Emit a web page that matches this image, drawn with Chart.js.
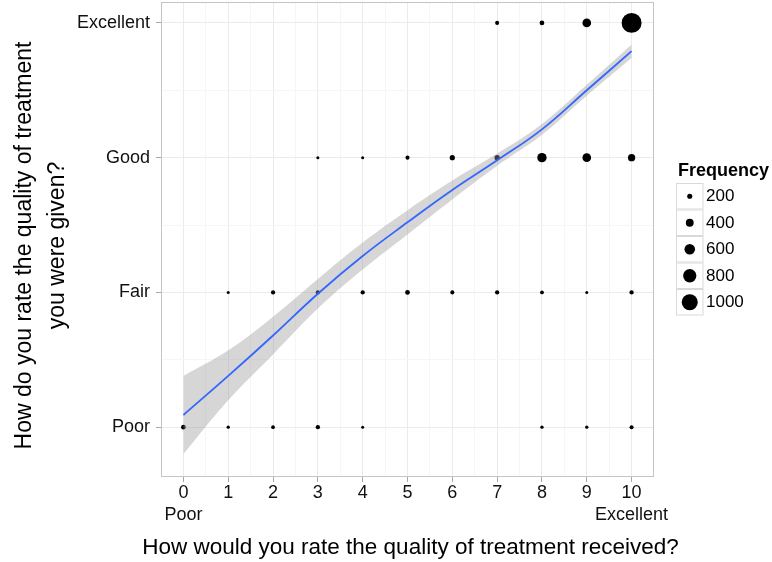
<!DOCTYPE html>
<html><head><meta charset="utf-8">
<script src="https://cdn.jsdelivr.net/npm/chart.js@4.4.0/dist/chart.umd.min.js"></script>
<style>html,body{margin:0;padding:0;background:#fff;}#wrap{width:772px;height:562px;}</style>
</head><body><div id="wrap"><canvas id="c" width="772" height="562"></canvas></div>
<script>
// ---- data ----
const xValues = [0,1,2,3,4,5,6,7,8,9,10];
const xTickLabels = ['0','1','2','3','4','5','6','7','8','9','10'];
const xTickSubLabels = ['Poor','','','','','','','','','','Excellent'];
const xGridValues = [0,0.5,1,1.5,2,2.5,3,3.5,4,4.5,5,5.5,6,6.5,7,7.5,8,8.5,9,9.5,10];
const yCategories = ['Poor','Fair','Good','Excellent'];
const yGridValues = [1,1.5,2,2.5,3,3.5,4];
const freqPoor      = [170, 70,100,140, 45,null,null,null, 70, 70,120];
const freqFair      = [null, 45,140,140,140,170,120,140,100, 45,140];
const freqGood      = [null,null,null, 45, 45,120,210,210,510,460,360];
const freqExcellent = [null,null,null,null,null,null,null,120,170,460,1290];
const smoothFit   = [1.09,1.38,1.68,1.99,2.27,2.52,2.76,2.98,3.21,3.50,3.79];
const smoothLower = [0.80,1.20,1.54,1.88,2.17,2.43,2.69,2.94,3.17,3.46,3.74];
const smoothUpper = [1.38,1.57,1.82,2.10,2.37,2.61,2.83,3.03,3.25,3.54,3.84];
const legendValues = [200,400,600,800,1000];
const legendTitle = 'Frequency';
const xTitle = 'How would you rate the quality of treatment received?';
const yTitle = ['How do you rate the quality of treatment','you were given?'];

// ---- helpers ----
const radiusFor = f => 1.2 + 0.0068 * f;
const freqRows = [freqPoor, freqFair, freqGood, freqExcellent];
const pointData = [];
const pointRadii = [];
freqRows.forEach((row, r) => {
  row.forEach((f, i) => {
    if (f !== null) { pointData.push({x: xValues[i], y: r + 1}); pointRadii.push(radiusFor(f)); }
  });
});
const toXY = arr => xValues.map((x, i) => ({x: x, y: arr[i]}));
const isMajor = v => Math.abs(v - Math.round(v)) < 1e-9;
const FONT = "'Liberation Sans', Arial, sans-serif";

const framePlugin = {
  id: 'frame',
  beforeDraw(chart) {
    const c = chart.ctx; c.save(); c.fillStyle = '#fff'; c.fillRect(0, 0, chart.width, chart.height); c.restore();
  },
  afterDraw(chart) {
    const c = chart.ctx, a = chart.chartArea;
    c.save();
    c.strokeStyle = '#c4c4c4'; c.lineWidth = 1;
    c.strokeRect(a.left + 0.5, a.top + 0.5, a.right - a.left - 1, a.bottom - a.top - 1);
    // axis titles (drawn here so they are not squeezed to the plot size)
    c.fillStyle = '#000'; c.textAlign = 'center'; c.textBaseline = 'middle';
    c.font = '22.5px ' + FONT;
    c.fillText(xTitle, (a.left + a.right) / 2 + 3, 548);
    c.font = '23px ' + FONT;
    yTitle.forEach((line, i) => {
      c.save();
      c.translate(25 + i * 33, (a.top + a.bottom) / 2 + 6);
      c.rotate(-Math.PI / 2);
      c.fillText(line, 0, 0);
      c.restore();
    });
    // legend
    c.textAlign = 'left';
    c.font = 'bold 18px ' + FONT;
    c.fillText(legendTitle, 678, 171.5);
    const bx = 676, bw = 27.5, rowH = 26.5;
    let by = 183;
    c.font = '17px ' + FONT;
    legendValues.forEach(v => {
      c.fillStyle = '#fff'; c.fillRect(bx, by, bw, rowH);
      c.strokeStyle = '#d9d9d9'; c.strokeRect(bx + 0.5, by + 0.5, bw - 1, rowH - 1);
      c.fillStyle = '#000';
      c.beginPath(); c.arc(bx + bw / 2, by + rowH / 2, radiusFor(v), 0, Math.PI * 2); c.fill();
      c.fillText(String(v), 706, by + rowH / 2 + 0.5);
      by += rowH;
    });
    c.restore();
  }
};

new Chart(document.getElementById('c'), {
  type: 'line',
  data: {
    datasets: [
      { label: 'fit', data: toXY(smoothFit), borderColor: '#3366FF', borderWidth: 1.8,
        pointRadius: 0, tension: 0.4, fill: false, order: 1 },
      { label: 'lower', data: toXY(smoothLower), borderWidth: 0, borderColor: 'rgba(0,0,0,0)',
        pointRadius: 0, tension: 0.4, fill: false, order: 2 },
      { label: 'upper', data: toXY(smoothUpper), borderWidth: 0, borderColor: 'rgba(0,0,0,0)',
        backgroundColor: 'rgba(153,153,153,0.4)',
        pointRadius: 0, tension: 0.4, fill: '-1', order: 2 },
      { label: 'Frequency', data: pointData, showLine: false, pointRadius: pointRadii,
        pointBackgroundColor: '#000', pointBorderWidth: 0, pointHoverRadius: pointRadii, order: 3 }
    ]
  },
  options: {
    responsive: false, animation: false, devicePixelRatio: 1,
    layout: { autoPadding: false, padding: { top: 2, right: 118, left: 0, bottom: 0 } },
    plugins: { legend: { display: false }, tooltip: { enabled: false } },
    scales: {
      x: {
        type: 'linear', min: -0.5, max: 10.5,
        afterBuildTicks: s => { s.ticks = xGridValues.map(v => ({value: v})); },
        afterFit: s => { s.height = 85; s.paddingLeft = 0; s.paddingRight = 0; },
        ticks: {
          autoSkip: false, maxRotation: 0, padding: 0, color: '#111',
          font: { size: 18, family: FONT, lineHeight: 22 / 18 },
          callback: v => {
            if (!isMajor(v)) return '';
            const i = xValues.indexOf(Math.round(v));
            return xTickSubLabels[i] ? [xTickLabels[i], xTickSubLabels[i]] : xTickLabels[i];
          }
        },
        grid: {
          color: ctx => isMajor(ctx.tick.value) ? '#ebebeb' : '#f6f6f6',
          lineWidth: 1, drawTicks: true, tickLength: 5,
          tickColor: ctx => isMajor(ctx.tick.value) ? '#a8a8a8' : 'rgba(0,0,0,0)'
        },
        border: { display: false },
        title: { display: false }
      },
      y: {
        type: 'linear', min: 0.63, max: 4.155,
        afterBuildTicks: s => { s.ticks = yGridValues.map(v => ({value: v})); },
        afterFit: s => { s.width = 161; s.paddingTop = 0; s.paddingBottom = 0; },
        ticks: {
          autoSkip: false, padding: 6, color: '#111',
          font: { size: 18, family: FONT },
          callback: v => isMajor(v) ? yCategories[Math.round(v) - 1] : ''
        },
        grid: {
          color: ctx => isMajor(ctx.tick.value) ? '#ebebeb' : '#f6f6f6',
          lineWidth: 1, drawTicks: true, tickLength: 5,
          tickColor: ctx => isMajor(ctx.tick.value) ? '#a8a8a8' : 'rgba(0,0,0,0)'
        },
        border: { display: false },
        title: { display: false }
      }
    }
  },
  plugins: [framePlugin]
});
</script></body></html>
